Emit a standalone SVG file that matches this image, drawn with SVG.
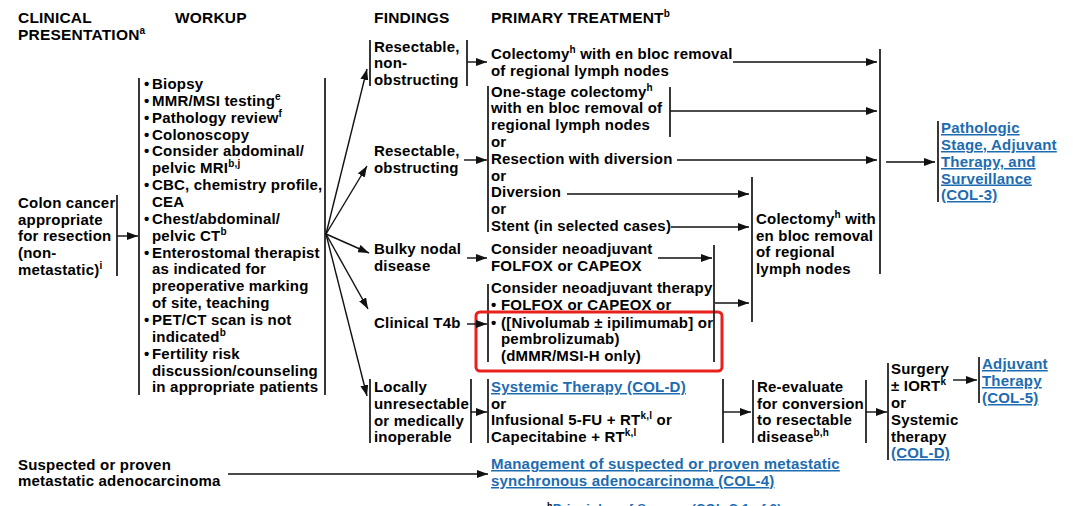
<svg xmlns="http://www.w3.org/2000/svg" width="1073" height="506" viewBox="0 0 1073 506">
<defs>
<marker id="ah" markerUnits="userSpaceOnUse" markerWidth="11" markerHeight="8" refX="11" refY="4" orient="auto"><path d="M0,0 L11,4 L0,8 z" fill="#111"/></marker>
<style>
text{font-family:"Liberation Sans",Arial,Helvetica,sans-serif;font-weight:bold;font-size:15px;letter-spacing:0.2px;fill:#000}
.h{font-size:15.5px}
.s{font-size:10px}
.lk{fill:#1d6cb1;text-decoration:underline}
.bar{stroke:#222;stroke-width:1.8;fill:none}
.ar{stroke:#111;stroke-width:1.4;fill:none;marker-end:url(#ah)}
.fn{font-size:13px}
</style>
</defs>
<rect width="1073" height="506" fill="#fff"/>

<g id="headers">
<text class="h" x="18" y="23">CLINICAL</text>
<text class="h" x="18" y="40">PRESENTATION<tspan class="s" dy="-6">a</tspan></text>
<text class="h" x="175" y="23">WORKUP</text>
<text class="h" x="374" y="23">FINDINGS</text>
<text class="h" x="491" y="23">PRIMARY TREATMENT<tspan class="s" dy="-6">b</tspan></text>
</g>

<g id="presentation">
<text x="18" y="207.5">Colon cancer</text>
<text x="18" y="224.5">appropriate</text>
<text x="18" y="241">for resection</text>
<text x="18" y="258">(non-</text>
<text x="18" y="275">metastatic)<tspan class="s" dy="-6">i</tspan></text>
<line class="bar" x1="117" y1="195" x2="117" y2="276"/>
</g>

<g id="workup">
<line class="bar" x1="139" y1="78" x2="139" y2="395"/>
<line class="bar" x1="325" y1="78" x2="325" y2="395"/>
<text x="144" y="89">•<tspan x="152">Biopsy</tspan></text>
<text x="144" y="105.9">•<tspan x="152">MMR/MSI testing</tspan><tspan class="s" dy="-6">e</tspan></text>
<text x="144" y="122.7">•<tspan x="152">Pathology review</tspan><tspan class="s" dy="-6">f</tspan></text>
<text x="144" y="139.6">•<tspan x="152">Colonoscopy</tspan></text>
<text x="144" y="156.4">•<tspan x="152">Consider abdominal/</tspan></text>
<text x="152" y="173.3">pelvic MRI<tspan class="s" dy="-6">b,j</tspan></text>
<text x="144" y="190.1">•<tspan x="152">CBC, chemistry profile,</tspan></text>
<text x="152" y="207">CEA</text>
<text x="144" y="223.8">•<tspan x="152">Chest/abdominal/</tspan></text>
<text x="152" y="240.7">pelvic CT<tspan class="s" dy="-6">b</tspan></text>
<text x="144" y="257.5">•<tspan x="152">Enterostomal therapist</tspan></text>
<text x="152" y="274.4">as indicated for</text>
<text x="152" y="291.2">preoperative marking</text>
<text x="152" y="308.1">of site, teaching</text>
<text x="144" y="324.9">•<tspan x="152">PET/CT scan is not</tspan></text>
<text x="152" y="341.8">indicated<tspan class="s" dy="-6">b</tspan></text>
<text x="144" y="358.6">•<tspan x="152">Fertility risk</tspan></text>
<text x="152" y="375.5">discussion/counseling</text>
<text x="152" y="392.3">in appropriate patients</text>
</g>

<g id="find-nonobstructing">
<line class="bar" x1="370" y1="40" x2="370" y2="86"/>
<line class="bar" x1="467" y1="40" x2="467" y2="86"/>
<text x="374" y="51.5">Resectable,</text>
<text x="374" y="68">non-</text>
<text x="374" y="84.5">obstructing</text>
</g>
<g id="find-obstructing">
<text x="374" y="156">Resectable,</text>
<text x="374" y="173">obstructing</text>
</g>
<g id="find-bulky">
<text x="374" y="254">Bulky nodal</text>
<text x="374" y="271">disease</text>
</g>
<g id="find-t4b">
<text x="374" y="328">Clinical T4b</text>
</g>
<g id="find-locally">
<line class="bar" x1="370" y1="379" x2="370" y2="443"/>
<line class="bar" x1="471" y1="379" x2="471" y2="443"/>
<text x="374" y="392">Locally</text>
<text x="374" y="409">unresectable</text>
<text x="374" y="425.5">or medically</text>
<text x="374" y="442">inoperable</text>
</g>

<g id="tx-colectomy">
<text x="491" y="59">Colectomy<tspan class="s" dy="-6">h</tspan><tspan dy="6"> with en bloc removal</tspan></text>
<text x="491" y="76">of regional lymph nodes</text>
</g>
<g id="tx-obstructing">
<line class="bar" x1="488" y1="86" x2="488" y2="232"/>
<line class="bar" x1="670" y1="87" x2="670" y2="137"/>
<text x="491" y="96.5">One-stage colectomy<tspan class="s" dy="-6">h</tspan></text>
<text x="491" y="113.3">with en bloc removal of</text>
<text x="491" y="130.1">regional lymph nodes</text>
<text x="491" y="146.9">or</text>
<text x="491" y="163.7">Resection with diversion</text>
<text x="491" y="180.5">or</text>
<text x="491" y="197.3">Diversion</text>
<text x="491" y="214.1">or</text>
<text x="491" y="230.9">Stent (in selected cases)</text>
</g>
<g id="tx-bulky">
<text x="491" y="254">Consider neoadjuvant</text>
<text x="491" y="271">FOLFOX or CAPEOX</text>
</g>
<g id="tx-t4b">
<line class="bar" x1="488" y1="284" x2="488" y2="362"/>
<text x="491" y="293">Consider neoadjuvant therapy</text>
<text x="491" y="310">•<tspan x="501">FOLFOX or CAPEOX or</tspan></text>
<text x="491" y="327.5">•<tspan x="501">([Nivolumab ± ipilimumab] or</tspan></text>
<text x="501" y="344">pembrolizumab)</text>
<text x="501" y="361">(dMMR/MSI-H only)</text>
<rect x="476" y="312" width="246" height="59" rx="4" fill="none" stroke="#e8211d" stroke-width="3"/>
</g>
<g id="tx-systemic">
<line class="bar" x1="488" y1="379" x2="488" y2="443"/>
<line class="bar" x1="723" y1="379" x2="723" y2="443"/>
<text class="lk" x="491" y="392">Systemic Therapy (COL-D)</text>
<text x="491" y="408.5">or</text>
<text x="491" y="425">Infusional 5-FU + RT<tspan class="s" dy="-6">k,l</tspan><tspan dy="6"> or</tspan></text>
<text x="491" y="442">Capecitabine + RT<tspan class="s" dy="-6">k,l</tspan></text>
</g>
<g id="colectomy-box">
<line class="bar" x1="752" y1="177" x2="752" y2="322"/>
<text x="756" y="223.5">Colectomy<tspan class="s" dy="-6">h</tspan><tspan dy="6"> with</tspan></text>
<text x="756" y="240.5">en bloc removal</text>
<text x="756" y="257">of regional</text>
<text x="756" y="274">lymph nodes</text>
</g>
<g id="pathologic">
<line class="bar" x1="938" y1="121" x2="938" y2="202"/>
<text class="lk" x="941" y="133">Pathologic</text>
<text class="lk" x="941" y="150">Stage, Adjuvant</text>
<text class="lk" x="941" y="167">Therapy, and</text>
<text class="lk" x="941" y="183.5">Surveillance</text>
<text class="lk" x="941" y="200">(COL-3)</text>
</g>
<g id="reevaluate">
<line class="bar" x1="753" y1="380" x2="753" y2="443"/>
<line class="bar" x1="866" y1="380" x2="866" y2="443"/>
<text x="757" y="392">Re-evaluate</text>
<text x="757" y="408.5">for conversion</text>
<text x="757" y="425">to resectable</text>
<text x="757" y="442">disease<tspan class="s" dy="-6">b,h</tspan></text>
</g>
<g id="surgery">
<line class="bar" x1="888" y1="363" x2="888" y2="460"/>
<text x="891" y="374">Surgery</text>
<text x="891" y="391">± IORT<tspan class="s" dy="-6">k</tspan></text>
<text x="891" y="408">or</text>
<text x="891" y="425">Systemic</text>
<text x="891" y="441.5">therapy</text>
<text class="lk" x="891" y="458">(COL-D)</text>
</g>
<g id="adjuvant">
<line class="bar" x1="979" y1="357" x2="979" y2="403"/>
<text class="lk" x="982" y="369">Adjuvant</text>
<text class="lk" x="982" y="386">Therapy</text>
<text class="lk" x="982" y="403">(COL-5)</text>
</g>
<g id="metastatic">
<text x="18" y="470">Suspected or proven</text>
<text x="18" y="486">metastatic adenocarcinoma</text>
</g>
<g id="management">
<text class="lk" x="491" y="469">Management of suspected or proven metastatic</text>
<text class="lk" x="491" y="486">synchronous adenocarcinoma (COL-4)</text>
</g>
<g id="footnote">
<text class="fn" x="547" y="512.5"><tspan font-size="9" dy="-4">h</tspan><tspan class="lk" dy="4">Principles of Surgery (COL-C 1 of 3)</tspan></text>
</g>

<g id="connectors">
<line class="ar" x1="117" y1="236" x2="138" y2="236"/>
<line class="ar" x1="326" y1="234" x2="367" y2="69"/>
<line class="ar" x1="326" y1="234" x2="367" y2="166"/>
<line class="ar" x1="326" y1="234" x2="369" y2="253"/>
<line class="ar" x1="326" y1="234" x2="368" y2="309"/>
<line class="ar" x1="326" y1="234" x2="367" y2="396"/>
<line class="ar" x1="467" y1="62" x2="487" y2="62"/>
<line class="ar" x1="464" y1="160" x2="487" y2="160"/>
<line class="ar" x1="467" y1="258" x2="487" y2="258"/>
<line class="ar" x1="467" y1="324" x2="487" y2="324"/>
<line class="ar" x1="471" y1="412" x2="487" y2="412"/>
<line class="ar" x1="733" y1="62" x2="877" y2="62"/>
<line class="ar" x1="670" y1="111" x2="877" y2="111"/>
<line class="ar" x1="677" y1="160" x2="877" y2="160"/>
<line class="bar" x1="880" y1="49" x2="880" y2="274"/>
<line class="ar" x1="886" y1="162" x2="935" y2="162"/>
<line class="ar" x1="567" y1="194" x2="749" y2="194"/>
<line class="ar" x1="671" y1="227" x2="749" y2="227"/>
<line class="ar" x1="658" y1="258" x2="712" y2="258"/>
<line class="bar" x1="714" y1="245" x2="714" y2="362"/>
<line class="ar" x1="715" y1="303" x2="749" y2="303"/>
<line class="ar" x1="723" y1="412" x2="751" y2="412"/>
<line class="ar" x1="866" y1="412" x2="887" y2="412"/>
<line class="ar" x1="953" y1="380" x2="977" y2="380"/>
<line class="ar" x1="228" y1="474" x2="488" y2="474"/>
</g>
</svg>
